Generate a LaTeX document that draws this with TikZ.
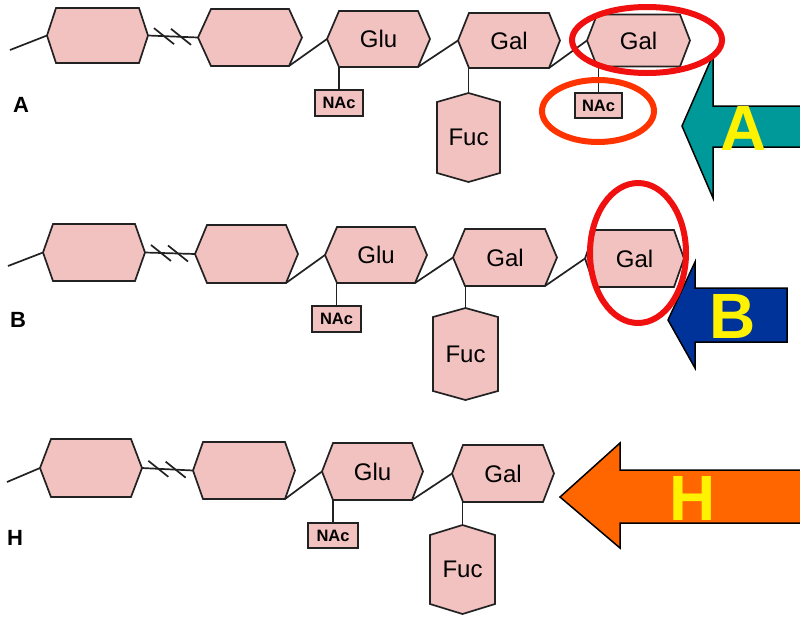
\documentclass[tikz,border=0pt]{standalone}
\usepackage{fontspec}
\setmainfont{Liberation Sans}
\usetikzlibrary{calc}
\definecolor{sugarpink}{HTML}{F2C2C0}
\definecolor{tealA}{HTML}{009999}
\definecolor{blueB}{HTML}{003399}
\definecolor{orangeH}{HTML}{FF6600}
\definecolor{ringred}{HTML}{F01010}
\definecolor{ringorange}{HTML}{FF3300}
\definecolor{lineblack}{HTML}{222222}
\tikzset{
  sugar/.style={fill=sugarpink, draw=lineblack, line width=1.7pt, line join=miter},
  sugartext/.style={inner sep=0pt, font=\fontsize{24}{24}\selectfont},
  bond/.style={draw=lineblack, line width=1.7pt},
  nacbox/.style={draw=lineblack, fill=sugarpink, line width=1.7pt, inner sep=0pt, font=\bfseries\fontsize{16.5}{16.5}\selectfont},
  rowlabel/.style={font=\bfseries\fontsize{22}{22}\selectfont, inner sep=0pt},
  bigletter/.style={text=yellow, font=\bfseries\fontsize{64}{64}\selectfont, inner sep=0pt},
  ring/.style={line width=6pt},
  bigarrow/.style={draw=black, line width=1.5pt, line join=miter},
}
% name, cx, cy, width, height, tip, text
\newcommand{\hsugar}[7]{%
  \draw[sugar] (#2-#4/2,#3) -- (#2-#4/2+#6,#3-#5/2) -- (#2+#4/2-#6,#3-#5/2) -- (#2+#4/2,#3) -- (#2+#4/2-#6,#3+#5/2) -- (#2-#4/2+#6,#3+#5/2) -- cycle;
  \node[sugartext, minimum width=#4pt, minimum height=#5pt] (#1) at (#2,#3) {#7};
  \coordinate (#1-l) at (#2-#4/2,#3);
  \coordinate (#1-r) at (#2+#4/2,#3);
  \coordinate (#1-bl) at (#2-#4/2+#6,#3+#5/2);
  \coordinate (#1-br) at (#2+#4/2-#6,#3+#5/2);
}
\newcommand{\vsugar}[7]{%
  \draw[sugar] (#2,#3-#5/2) -- (#2+#4/2,#3-#5/2+#6) -- (#2+#4/2,#3+#5/2-#6) -- (#2,#3+#5/2) -- (#2-#4/2,#3+#5/2-#6) -- (#2-#4/2,#3-#5/2+#6) -- cycle;
  \node[sugartext, minimum width=#4pt, minimum height=#5pt] (#1) at (#2,#3) {#7};
}
\newcommand{\brokenbond}[2]{%
  \draw[bond] (#1) -- (#2);
  \draw[bond] ($(#1)!0.32!(#2)+(-10,-8)$) -- +(20,16);
  \draw[bond] ($(#1)!0.66!(#2)+(-10,-8)$) -- +(20,16);
}
\begin{document}
\begin{tikzpicture}[x=1pt,y=-1pt]
\fill[white] (0,0) rectangle (800,619);
\useasboundingbox (0,0) rectangle (800,619);

% ---------- Row A ----------
\hsugar{a1}{97.5}{35.5}{101}{55}{9}{}
\hsugar{a2}{250}{37.5}{104}{57}{13}{}
\hsugar{aglu}{378.5}{39}{103}{56}{12}{Glu}
\hsugar{agal}{509}{40.5}{102}{55}{11}{Gal}
\hsugar{agalt}{638.5}{40.5}{103}{52}{10}{Gal}
\vsugar{afuc}{468.5}{137.5}{63}{89}{9}{Fuc}
\node[nacbox, minimum width=48pt, minimum height=26pt] (anac) at (339,103) {NAc};
\node[nacbox, minimum width=47pt, minimum height=25pt] (anact) at (598.5,105.5) {NAc};
\coordinate (a0) at (10,50);
\draw[bond] (a0) -- (a1-l);
\brokenbond{a1-r}{a2-l}
\draw[bond] (a2-br) -- (aglu-l);
\draw[bond] (aglu-br) -- (agal-l);
\draw[bond] (agal-br) -- (agalt-l);
\draw[bond] (anac.north) -- (anac.north |- aglu.south);
\draw[bond] (afuc.north) -- (afuc.north |- agal.south);
\draw[bond] (anact.north) -- (anact.north |- agalt.south);
\node[rowlabel] (labA) at (21,105) {A};

% ---------- Row B ----------
\hsugar{b1}{94}{252.5}{102}{57}{10}{}
\hsugar{b2}{246.5}{254}{103}{58}{12}{}
\hsugar{bglu}{376}{255}{102}{56}{12}{Glu}
\hsugar{bgal}{505}{257.5}{104}{57}{12}{Gal}
\hsugar{bgalt}{634.5}{258.5}{99}{57}{10}{Gal}
\vsugar{bfuc}{465.5}{354}{65}{92}{9}{Fuc}
\node[nacbox, minimum width=49pt, minimum height=26pt] (bnac) at (336.5,319) {NAc};
\coordinate (b0) at (8,266);
\draw[bond] (b0) -- (b1-l);
\brokenbond{b1-r}{b2-l}
\draw[bond] (b2-br) -- (bglu-l);
\draw[bond] (bglu-br) -- (bgal-l);
\draw[bond] (bgal-br) -- (bgalt-l);
\draw[bond] (bnac.north) -- (bnac.north |- bglu.south);
\draw[bond] (bfuc.north) -- (bfuc.north |- bgal.south);
\node[rowlabel] (labB) at (18,320) {B};

% ---------- Row H ----------
\hsugar{h1}{91}{468}{102}{58}{11}{}
\hsugar{h2}{244}{470.5}{102}{57}{10}{}
\hsugar{hglu}{372.5}{471.5}{101}{57}{11}{Glu}
\hsugar{hgal}{503}{473.5}{102}{57}{11}{Gal}
\vsugar{hfuc}{462.5}{569.5}{65}{89}{10}{Fuc}
\node[nacbox, minimum width=50pt, minimum height=25pt] (hnac) at (333,535.5) {NAc};
\coordinate (h0) at (7,482);
\draw[bond] (h0) -- (h1-l);
\brokenbond{h1-r}{h2-l}
\draw[bond] (h2-br) -- (hglu-l);
\draw[bond] (hglu-br) -- (hgal-l);
\draw[bond] (hnac.north) -- (hnac.north |- hglu.south);
\draw[bond] (hfuc.north) -- (hfuc.north |- hgal.south);
\node[rowlabel] (labH) at (15,538) {H};

% ---------- Big arrows ----------
\draw[bigarrow, fill=tealA] (682,126) -- (713,55) -- (713,106) -- (806,106) -- (806,147) -- (713,147) -- (713,198) -- cycle;
\node[bigletter] (bigA) at (744,128) {A};
\draw[bigarrow, fill=blueB] (668,320) -- (695,262) -- (695,288) -- (787,288) -- (787,342) -- (695,342) -- (695,368) -- cycle;
\node[bigletter] (bigB) at (733,316) {B};
\draw[bigarrow, fill=orangeH] (560,497) -- (620,443) -- (620,470) -- (806,470) -- (806,523) -- (620,523) -- (620,548) -- cycle;
\node[bigletter] (bigH) at (693,498) {H};

% ---------- Rings ----------
\draw[ring, draw=ringred] (647,40) ellipse [x radius=75, y radius=33];
\draw[ring, draw=ringorange] (598,111) ellipse [x radius=56, y radius=31];
\draw[ring, draw=ringred] (638,253) ellipse [x radius=48, y radius=70];
\end{tikzpicture}
\end{document}
